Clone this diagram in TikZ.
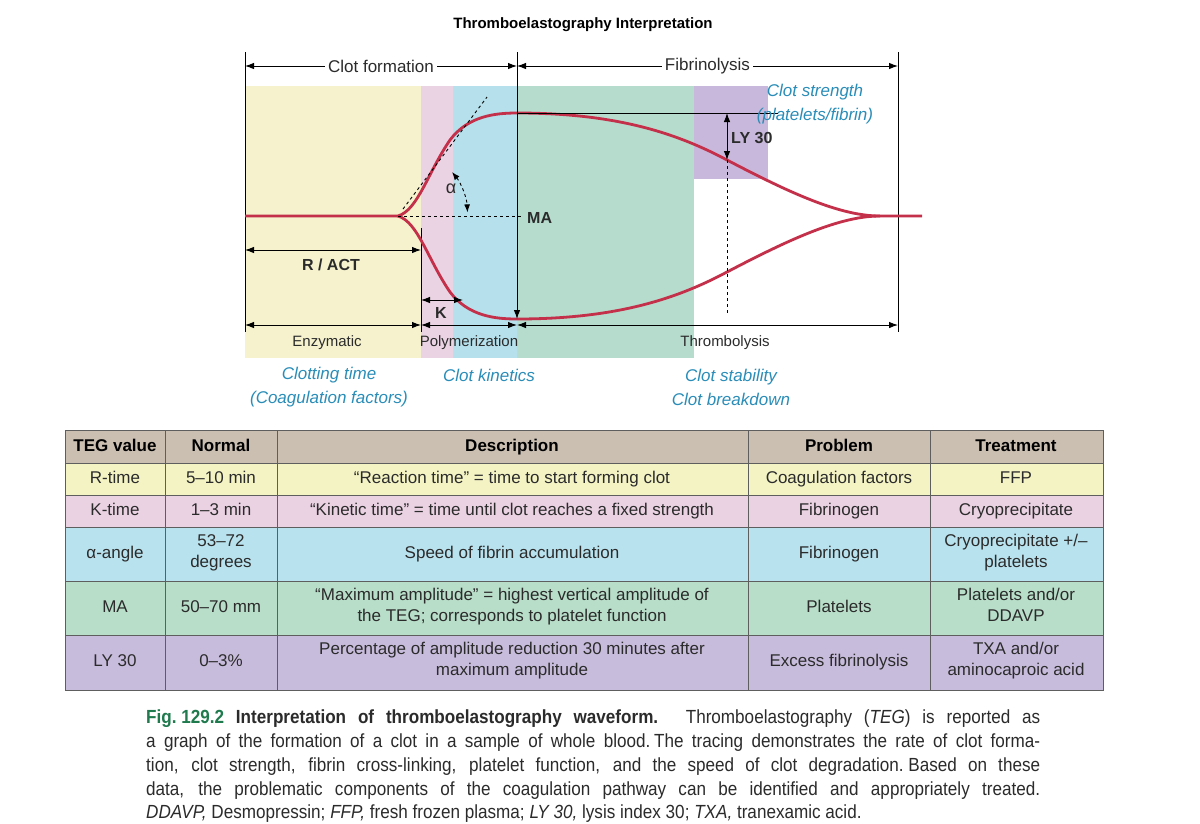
\documentclass[tikz,border=0pt]{standalone}
\usepackage{fontspec}
\setmainfont{Liberation Sans}
\newfontfamily\capfont[FakeStretch=0.9]{Liberation Sans}
\usetikzlibrary{arrows.meta}
\definecolor{bandY}{HTML}{F5F2CD}
\definecolor{bandP}{HTML}{EAD3E3}
\definecolor{bandB}{HTML}{B5E0EC}
\definecolor{bandG}{HTML}{B6DCCE}
\definecolor{bandV}{HTML}{C8B8DB}
\definecolor{rowH}{HTML}{CBBFB2}
\definecolor{rowY}{HTML}{F4F3C4}
\definecolor{rowP}{HTML}{EAD2E3}
\definecolor{rowB}{HTML}{B8E2EE}
\definecolor{rowG}{HTML}{B8DEC9}
\definecolor{rowV}{HTML}{C8BCDC}
\definecolor{teg}{HTML}{C4304A}
\definecolor{noteblue}{HTML}{2A8DB8}
\definecolor{capgreen}{HTML}{1F7A4D}
\definecolor{txt}{HTML}{2B2B2B}
\definecolor{grid}{HTML}{5E5E5E}
\begin{document}
\begin{tikzpicture}[x=1pt,y=-1pt,
  tip/.style={-{Latex[length=9pt,width=6.5pt]}, line width=0.9pt},
  dtip/.style={{Latex[length=9pt,width=6.5pt]}-{Latex[length=9pt,width=6.5pt]}, line width=0.9pt},
  tegline/.style={draw=teg, line width=2.8pt},
  toplbl/.style={fill=white, inner sep=3pt, text=txt, font=\fontsize{17}{20}\selectfont},
  botlbl/.style={inner sep=0pt, text=txt, font=\fontsize{15}{18}\selectfont},
  boldlbl/.style={inner sep=0pt, text=txt, font=\fontsize{16}{18}\selectfont\bfseries},
  note/.style={inner sep=0pt, text=noteblue, align=center, font=\fontsize{17}{24}\selectfont\itshape},
  cell/.style={inner sep=0pt, text=txt, align=center, font=\fontsize{17}{21}\selectfont,
    execute at begin node=\strut, execute at end node=\strut},
  hcell/.style={cell, text=black, font=\fontsize{17}{21}\selectfont\bfseries},
  capline/.style={inner sep=0pt, anchor=base west, text=txt, font=\capfont\fontsize{19}{24}\selectfont},
  dline/.style={dashed, line width=0.9pt, dash pattern=on 3pt off 3pt}
]
\path[use as bounding box] (0,0) rectangle (1200,823);
\fill[white] (0,0) rectangle (1200,823);

% title
\node[inner sep=0pt, font=\fontsize{15}{17}\selectfont\bfseries] (title) at (583,25) {Thromboelastography Interpretation};

% bands
\fill[bandY] (245,86) rectangle (421,358);
\fill[bandP] (421,86) rectangle (453,358);
\fill[bandB] (453,86) rectangle (517,358);
\fill[bandG] (517,86) rectangle (694,358);
\fill[bandV] (694,86) rectangle (768,179);

% key coordinates
\coordinate (tl) at (245,66);
\coordinate (tm) at (517,66);
\coordinate (tr) at (898,66);
\coordinate (vl0) at (245,52);
\coordinate (vl1) at (245,332);
\coordinate (vr0) at (898,52);
\coordinate (vr1) at (898,332);
\coordinate (vm0) at (517,52);
\coordinate (vk0) at (421,228);
\coordinate (vk1) at (421,332);
\coordinate (start) at (245,216);
\coordinate (split) at (398,216);
\coordinate (peak) at (517,113);
\coordinate (trough) at (517,319);
\coordinate (ly) at (727,160);
\coordinate (lyb) at (727,272);
\coordinate (lytop) at (727,113);
\coordinate (lydash) at (727,314);
\coordinate (peakline) at (778,113);
\coordinate (merge) at (880,216);
\coordinate (fin) at (922,216);
\coordinate (maend) at (523,216);
\coordinate (tan0) at (403,209);
\coordinate (tan1) at (487,97);
\coordinate (ra) at (245,250);
\coordinate (rb) at (421,250);
\coordinate (ka) at (421,300);
\coordinate (kb) at (463,300);
\coordinate (b0) at (245,325);
\coordinate (b1) at (421,325);
\coordinate (b2) at (517,325);
\coordinate (b3) at (898,325);

% vertical guides
\draw[line width=0.9pt] (vl0) -- (vl1);
\draw[line width=0.9pt] (vr0) -- (vr1);
\draw[line width=0.9pt] (vk0) -- (vk1);

% top arrows
\draw[dtip] (tl) -- node[toplbl] (clotform) {Clot formation} (tm);
\draw[dtip] (tm) -- node[toplbl] (fibrino) {Fibrinolysis} (tr);

% curve
\draw[tegline] (start) -- (split)
  .. controls (418,210) and (428,172) .. (450,140)
  .. controls (468,116) and (495,113) .. (peak)
  .. controls (620,113) and (680,135) .. (ly)
  .. controls (790,193) and (840,216) .. (merge) -- (fin);
\draw[tegline] (split)
  .. controls (418,222) and (428,260) .. (450,292)
  .. controls (468,316) and (495,319) .. (trough)
  .. controls (620,319) and (680,297) .. (lyb)
  .. controls (790,239) and (840,216) .. (merge);

% MA vertical
\draw[tip] (vm0) -- (trough);
\draw[line width=0.9pt] (peak) -- (peakline);
\draw[dtip] (lytop) -- (ly);
\draw[dline] (ly) -- (lydash);
\node[boldlbl, anchor=west] (lylbl) at (731,138) {LY 30};

% MA dashed and alpha
\draw[dline] (split) -- (maend);
\node[boldlbl, anchor=west] (ma) at (527,218) {MA};
\draw[dline] (tan0) -- (tan1);
\draw[dline, {Latex[length=8pt,width=6pt]}-{Latex[length=8pt,width=6pt]}] (452,172) arc[start angle=-39, end angle=-3, radius=70];
\node[inner sep=0pt, text=txt, font=\fontsize{18}{20}\selectfont] (alpha) at (451,189) {α};

% R / ACT and K
\draw[dtip] (ra) -- (rb);
\node[boldlbl] (ract) at (331,265) {R / ACT};
\draw[dtip] (ka) -- (kb);
\node[boldlbl] (klbl) at (441,313) {K};

% bottom arrows
\draw[dtip] (b0) -- (b1);
\draw[dtip] (b1) -- (b2);
\draw[dtip] (b2) -- (b3);
\node[botlbl] (enz) at (327,343) {Enzymatic};
\node[botlbl] (poly) at (469,343) {Polymerization};
\node[botlbl] (thromb) at (725,343) {Thrombolysis};

% blue notes
\node[note] (strength) at (815,104) {Clot strength\\(platelets/fibrin)};
\node[note] (clottime) at (329,387) {Clotting time\\(Coagulation factors)};
\node[note] (kinetics) at (489,375) {Clot kinetics};
\node[note] (stability) at (731,387) {Clot stability\\Clot breakdown};

% table fills
\fill[rowH] (65,430) rectangle (1103,463);
\fill[rowY] (65,463) rectangle (1103,495);
\fill[rowP] (65,495) rectangle (1103,527);
\fill[rowB] (65,527) rectangle (1103,581);
\fill[rowG] (65,581) rectangle (1103,635);
\fill[rowV] (65,635) rectangle (1103,690);
% grid
\draw[grid, line width=0.8pt] (65,430) rectangle (1103,690);
\foreach \yy in {463,495,527,581,635} \draw[grid, line width=0.8pt] (65,\yy) -- (1103,\yy);
\foreach \xx in {165,277,748,930} \draw[grid, line width=0.8pt] (\xx,430) -- (\xx,690);

% header
\node[hcell] (h1) at (115,447) {TEG value};
\node[hcell] (h2) at (221,447) {Normal};
\node[hcell] (h3) at (512,447) {Description};
\node[hcell] (h4) at (839,447) {Problem};
\node[hcell] (h5) at (1016,447) {Treatment};
% R
\node[cell] (r1) at (115,479) {R-time};
\node[cell] (r2) at (221,479) {5–10 min};
\node[cell] (r3) at (512,479) {“Reaction time” = time to start forming clot};
\node[cell] (r4) at (839,479) {Coagulation factors};
\node[cell] (r5) at (1016,479) {FFP};
% K
\node[cell] (k1) at (115,511) {K-time};
\node[cell] (k2) at (221,511) {1–3 min};
\node[cell] (k3) at (512,511) {“Kinetic time” = time until clot reaches a fixed strength};
\node[cell] (k4) at (839,511) {Fibrinogen};
\node[cell] (k5) at (1016,511) {Cryoprecipitate};
% alpha
\node[cell] (a1) at (115,554) {α-angle};
\node[cell] (a2) at (221,554) {53–72\\degrees};
\node[cell] (a3) at (512,554) {Speed of fibrin accumulation};
\node[cell] (a4) at (839,554) {Fibrinogen};
\node[cell] (a5) at (1016,554) {Cryoprecipitate +/–\\platelets};
% MA
\node[cell] (m1) at (115,608) {MA};
\node[cell] (m2) at (221,608) {50–70 mm};
\node[cell] (m3) at (512,608) {“Maximum amplitude” = highest vertical amplitude of\\the TEG; corresponds to platelet function};
\node[cell] (m4) at (839,608) {Platelets};
\node[cell] (m5) at (1016,608) {Platelets and/or\\DDAVP};
% LY
\node[cell] (l1) at (115,662) {LY 30};
\node[cell] (l2) at (221,662) {0–3\%};
\node[cell] (l3) at (512,662) {Percentage of amplitude reduction 30 minutes after\\maximum amplitude};
\node[cell] (l4) at (839,662) {Excess fibrinolysis};
\node[cell] (l5) at (1016,662) {TXA and/or\\aminocaproic acid};

% caption
\node[capline] (cap1) at (146,723) {\makebox[894pt][s]{{\color{capgreen}\bfseries Fig.\hspace{0.25em}129.2} {\bfseries Interpretation of thromboelastography waveform.} Thromboelastography (\textit{TEG}) is reported as}};
\node[capline] (cap2) at (146,747) {\makebox[894pt][s]{a graph of the formation of a clot in a sample of whole blood.\hspace{0.2em}The tracing demonstrates the rate of clot forma-}};
\node[capline] (cap3) at (146,771) {\makebox[894pt][s]{tion, clot strength, fibrin cross-linking, platelet function, and the speed of clot degradation.\hspace{0.25em}Based on these}};
\node[capline] (cap4) at (146,795) {\makebox[894pt][s]{data, the problematic components of the coagulation pathway can be identified and appropriately treated.}};
\node[capline] (cap5) at (146,818) {\textit{DDAVP,} Desmopressin; \textit{FFP,} fresh frozen plasma; \textit{LY 30,} lysis index 30; \textit{TXA,} tranexamic acid.};
\end{tikzpicture}
\end{document}
